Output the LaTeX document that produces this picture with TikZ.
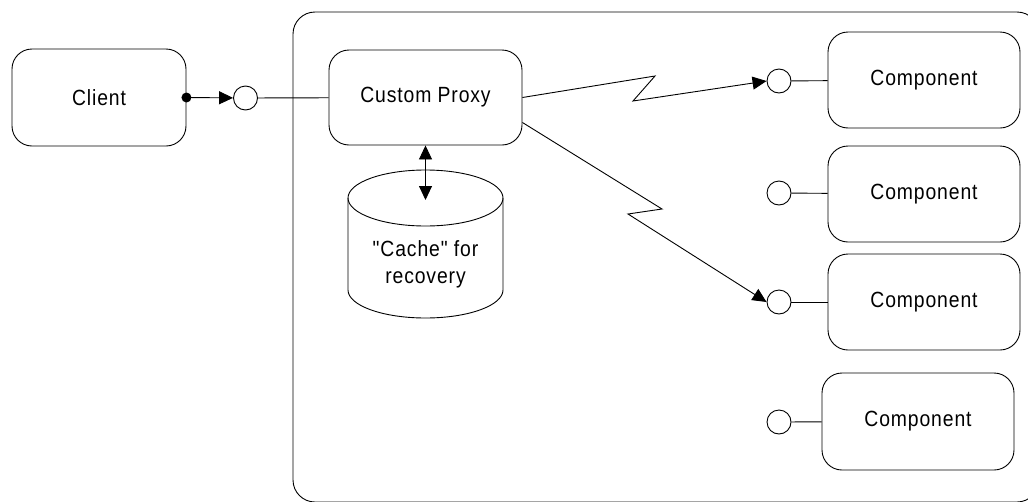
\documentclass[tikz,border=0pt]{standalone}
\usepackage{fontspec}
\setmainfont{Liberation Sans}[Ligatures=TeXOff,FakeStretch=0.88,LetterSpace=4]
\usetikzlibrary{arrows.meta,calc}
\begin{document}
\begin{tikzpicture}[x=1pt,y=-1pt,line width=0.9pt,
  lbl/.style={font=\fontsize{22}{27}\selectfont},
  box/.style={draw,rounded corners=20pt,minimum width=192pt,minimum height=96pt,inner sep=0pt,lbl},
  port/.style={draw,circle,minimum size=24pt,inner sep=0pt,fill=white},
  tip/.style={-{Triangle[length=14pt,width=13pt]}},
  dtip/.style={{Triangle[length=14pt,width=13pt]}-{Triangle[length=14pt,width=13pt]}}]
\useasboundingbox (0,0) rectangle (1028,501);
\clip (0,0) rectangle (1028,501);
% container
\draw[rounded corners=22pt] (293,12) rectangle (1039,502);
% nodes
\node[box,minimum width=174pt,minimum height=97pt] (client) at (99,97.5) {Client};
\node[box,minimum width=193pt,minimum height=95pt] (proxy) at (425.5,97.5) {Custom Proxy};
\node[box] (comp1) at (924,80) {Component};
\node[box] (comp2) at (924,194) {Component};
\node[box] (comp3) at (924,302) {Component};
\node[box,minimum height=97pt] (comp4) at (918,421.5) {Component};
\node[port] (c0) at (245.5,98) {};
\node[port] (c1) at (779,81) {};
\node[port] (c2) at (779,193) {};
\node[port] (c3) at (779,302) {};
\node[port] (c4) at (779,422) {};
% cylinder
\draw (348,198) -- (348,290) .. controls (348,305.5) and (382.7,318) .. (425.5,318)
      .. controls (468.3,318) and (503,305.5) .. (503,290) -- (503,198);
\draw (425.5,198) ellipse [x radius=77.5pt, y radius=28pt];
\node[lbl,align=center] (cache) at (425.5,264) {"Cache" for\\recovery};
\coordinate (cachetop) at (425.5,200);
% connectors
\fill (client.east) circle (5pt);
\draw[tip] (client.east) -- (c0);
\draw (c0) -- (proxy);
\draw[dtip] (proxy.south) -- (cachetop);
\coordinate (z1a) at (655,76);
\coordinate (z1b) at (633,101);
\coordinate (z2a) at (662,209);
\coordinate (z2b) at (628,214);
\coordinate (p2) at ($(proxy.east)+(0,25)$);
\draw[tip] (proxy.east) -- (z1a) -- (z1b) -- (c1.west);
\draw[tip] (p2) -- (z2a) -- (z2b) -- (c3.west);
\draw (c1) -- (comp1);
\draw (c2) -- (comp2);
\draw (c3) -- (comp3);
\draw (c4) -- (comp4);
\end{tikzpicture}
\end{document}
